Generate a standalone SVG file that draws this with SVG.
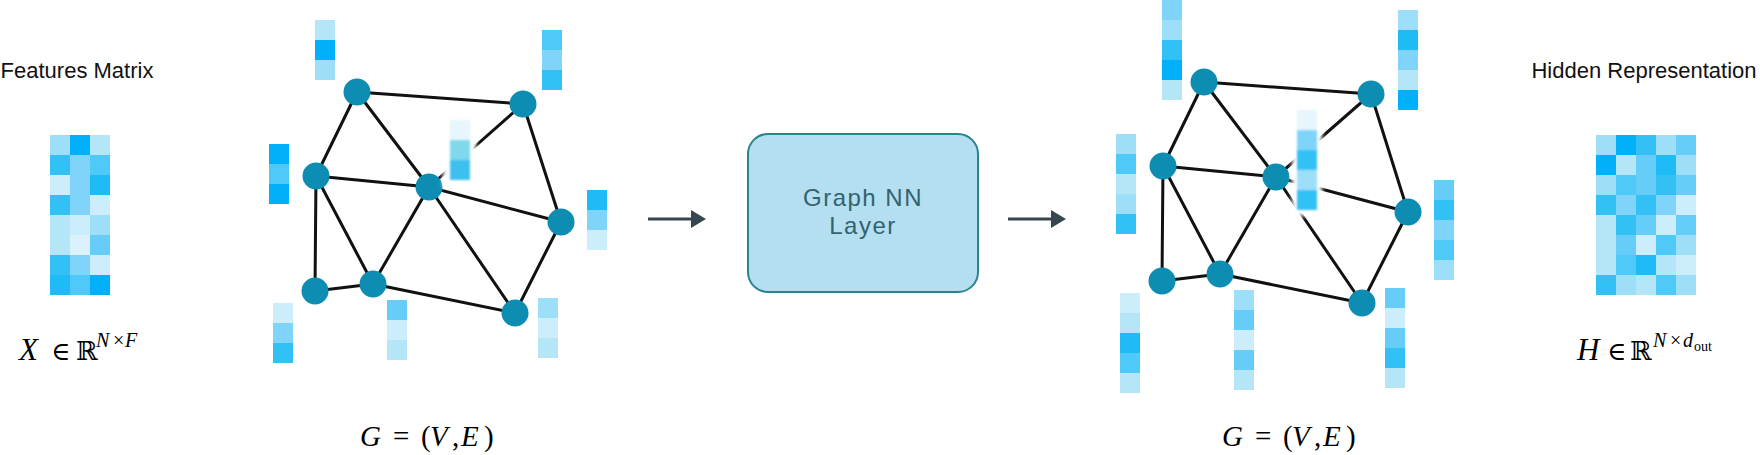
<svg xmlns="http://www.w3.org/2000/svg" width="1760" height="455" viewBox="0 0 1760 455">
<defs>
<style>
.lbl{font-family:"Liberation Sans",Arial,sans-serif;font-size:22px;fill:#111;text-anchor:middle}
.box-t{font-family:"Liberation Sans",Arial,sans-serif;font-size:24px;fill:#33636f;text-anchor:middle;letter-spacing:1.5px}
.math{font-family:"Liberation Serif","Times New Roman",serif;font-size:29px;fill:#000}
.it{font-style:italic}
.big{font-size:31px}
.el{font-family:"DejaVu Serif","DejaVu Sans",serif;font-size:26px}
.bb{font-family:"DejaVu Serif","DejaVu Sans",serif;font-size:26px}
.sup{font-size:20px}
.edge{stroke:#111;stroke-width:3;fill:none;stroke-linecap:round}
.node circle{fill:#0e8db3}
.cells rect{width:20px;height:20px}
.k0{fill:#00b0f8}.k1{fill:#1ebbf7}.k2{fill:#33c1f5}.k3{fill:#4fc9f7}.k4{fill:#66cdf8}
.k5{fill:#80d4f9}.k6{fill:#9ddff9}.k7{fill:#b5e6f8}.k8{fill:#cceefc}.k9{fill:#dbf2fd}
.kf{fill:#e6f6fc}
.arrow{stroke:#37474f;stroke-width:3;fill:none}
</style>
<marker id="ah" markerUnits="userSpaceOnUse" markerWidth="16" markerHeight="20" refX="2" refY="9" orient="auto">
<path d="M0,0 L15,9 L0,18 Z" fill="#37474f"/>
</marker>
<filter id="soft" x="-50%" y="-30%" width="200%" height="160%"><feGaussianBlur stdDeviation="1.2"/></filter>
<filter id="halo" x="-50%" y="-30%" width="200%" height="160%"><feGaussianBlur stdDeviation="2"/></filter>
</defs>
<rect width="1760" height="455" fill="#fff"/>

<!-- Features matrix -->
<g id="features">
<text class="lbl" x="77" y="78">Features Matrix</text>
<g class="cells">
<rect class="k6" x="50" y="135"/><rect class="k0" x="70" y="135"/><rect class="k7" x="90" y="135"/>
<rect class="k2" x="50" y="155"/><rect class="k5" x="70" y="155"/><rect class="k3" x="90" y="155"/>
<rect class="k8" x="50" y="175"/><rect class="k5" x="70" y="175"/><rect class="k1" x="90" y="175"/>
<rect class="k2" x="50" y="195"/><rect class="k5" x="70" y="195"/><rect class="k8" x="90" y="195"/>
<rect class="k7" x="50" y="215"/><rect class="k8" x="70" y="215"/><rect class="k6" x="90" y="215"/>
<rect class="k7" x="50" y="235"/><rect class="k9" x="70" y="235"/><rect class="k4" x="90" y="235"/>
<rect class="k2" x="50" y="255"/><rect class="k5" x="70" y="255"/><rect class="k8" x="90" y="255"/>
<rect class="k1" x="50" y="275"/><rect class="k3" x="70" y="275"/><rect class="k0" x="90" y="275"/>
</g>
<text class="math" y="360"><tspan class="it big" x="19">X</tspan><tspan class="el" x="51">∈</tspan><tspan class="bb" x="76">ℝ</tspan><tspan class="sup it" x="96" y="347">N</tspan><tspan class="sup" x="113" y="347">×</tspan><tspan class="sup it" x="125" y="347">F</tspan></text>
</g>

<!-- Left graph connectors -->
<g id="connectors-left">
<line class="edge" x1="357" y1="92" x2="523" y2="104"/>
<line class="edge" x1="357" y1="92" x2="316" y2="176"/>
<line class="edge" x1="357" y1="92" x2="429" y2="187"/>
<line class="edge" x1="523" y1="104" x2="429" y2="187"/>
<line class="edge" x1="523" y1="104" x2="561" y2="222"/>
<line class="edge" x1="316" y1="176" x2="429" y2="187"/>
<line class="edge" x1="316" y1="176" x2="315" y2="291"/>
<line class="edge" x1="316" y1="176" x2="373" y2="284"/>
<line class="edge" x1="429" y1="187" x2="373" y2="284"/>
<line class="edge" x1="429" y1="187" x2="561" y2="222"/>
<line class="edge" x1="429" y1="187" x2="515" y2="313"/>
<line class="edge" x1="315" y1="291" x2="373" y2="284"/>
<line class="edge" x1="373" y1="284" x2="515" y2="313"/>
<line class="edge" x1="515" y1="313" x2="561" y2="222"/>
</g>
<g id="L-A" class="node"><circle cx="357" cy="92" r="13.5"/></g>
<g id="L-B" class="node"><circle cx="523" cy="104" r="13.5"/></g>
<g id="L-C" class="node"><circle cx="316" cy="176" r="13.5"/></g>
<g id="L-D" class="node"><circle cx="429" cy="187" r="13.5"/></g>
<g id="L-E" class="node"><circle cx="561" cy="222" r="13.5"/></g>
<g id="L-F" class="node"><circle cx="315" cy="291" r="13.5"/></g>
<g id="L-G" class="node"><circle cx="373" cy="284" r="13.5"/></g>
<g id="L-H" class="node"><circle cx="515" cy="313" r="13.5"/></g>

<g id="left-vectors" class="cells">
<rect class="k7" x="315" y="20"/><rect class="k0" x="315" y="40"/><rect class="k6" x="315" y="60"/>
<rect class="k3" x="542" y="30"/><rect class="k5" x="542" y="50"/><rect class="k2" x="542" y="70"/>
<rect class="k0" x="269" y="144"/><rect class="k3" x="269" y="164"/><rect class="k0" x="269" y="184"/>
<rect class="k1" x="587" y="190"/><rect class="k5" x="587" y="210"/><rect class="k8" x="587" y="230"/>
<rect class="k8" x="273" y="303"/><rect class="k5" x="273" y="323"/><rect class="k2" x="273" y="343"/>
<rect class="k4" x="387" y="300"/><rect class="k8" x="387" y="320"/><rect class="k7" x="387" y="340"/>
<rect class="k6" x="538" y="298"/><rect class="k8" x="538" y="318"/><rect class="k7" x="538" y="338"/>
</g>
<g id="left-center-vector">
<rect x="443" y="112" width="33" height="75" fill="#fff" filter="url(#halo)"/>
<g filter="url(#soft)">
<rect x="450" y="120" width="20" height="20" class="kf"/>
<rect x="450" y="140" width="20" height="20" fill="#7fd8ec"/>
<rect x="450" y="160" width="20" height="20" fill="#3cc0f0"/>
</g>
</g>
<text class="math" y="446"><tspan class="it" x="360">G</tspan><tspan x="393">=</tspan><tspan x="421">(</tspan><tspan class="it" x="430">V</tspan><tspan x="452">,</tspan><tspan class="it" x="461">E</tspan><tspan x="484">)</tspan></text>

<!-- Arrows -->
<g id="connectors-arrows">
<line class="arrow" x1="648" y1="219" x2="693" y2="219" marker-end="url(#ah)"/>
<line class="arrow" x1="1008" y1="219" x2="1053" y2="219" marker-end="url(#ah)"/>
</g>

<!-- GNN Layer box -->
<g id="gnn-layer">
<rect x="748" y="134" width="230" height="158" rx="20" fill="#b4dff0" stroke="#2a8391" stroke-width="2"/>
<text class="box-t" x="863" y="206">Graph NN</text>
<text class="box-t" x="863" y="234">Layer</text>
</g>

<!-- Right graph connectors -->
<g id="connectors-right">
<line class="edge" x1="1204" y1="82" x2="1371" y2="94"/>
<line class="edge" x1="1204" y1="82" x2="1163" y2="166"/>
<line class="edge" x1="1204" y1="82" x2="1276" y2="177"/>
<line class="edge" x1="1371" y1="94" x2="1276" y2="177"/>
<line class="edge" x1="1371" y1="94" x2="1408" y2="212"/>
<line class="edge" x1="1163" y1="166" x2="1276" y2="177"/>
<line class="edge" x1="1163" y1="166" x2="1162" y2="281"/>
<line class="edge" x1="1163" y1="166" x2="1220" y2="274"/>
<line class="edge" x1="1276" y1="177" x2="1220" y2="274"/>
<line class="edge" x1="1276" y1="177" x2="1408" y2="212"/>
<line class="edge" x1="1276" y1="177" x2="1362" y2="303"/>
<line class="edge" x1="1162" y1="281" x2="1220" y2="274"/>
<line class="edge" x1="1220" y1="274" x2="1362" y2="303"/>
<line class="edge" x1="1362" y1="303" x2="1408" y2="212"/>
</g>
<g id="R-A" class="node"><circle cx="1204" cy="82" r="13.5"/></g>
<g id="R-B" class="node"><circle cx="1371" cy="94" r="13.5"/></g>
<g id="R-C" class="node"><circle cx="1163" cy="166" r="13.5"/></g>
<g id="R-D" class="node"><circle cx="1276" cy="177" r="13.5"/></g>
<g id="R-E" class="node"><circle cx="1408" cy="212" r="13.5"/></g>
<g id="R-F" class="node"><circle cx="1162" cy="281" r="13.5"/></g>
<g id="R-G" class="node"><circle cx="1220" cy="274" r="13.5"/></g>
<g id="R-H" class="node"><circle cx="1362" cy="303" r="13.5"/></g>

<g id="right-vectors" class="cells">
<rect class="k5" x="1162" y="0"/><rect class="k6" x="1162" y="20"/><rect class="k2" x="1162" y="40"/><rect class="k0" x="1162" y="60"/><rect class="k7" x="1162" y="80"/>
<rect class="k6" x="1398" y="10"/><rect class="k1" x="1398" y="30"/><rect class="k5" x="1398" y="50"/><rect class="k7" x="1398" y="70"/><rect class="k0" x="1398" y="90"/>
<rect class="k6" x="1116" y="134"/><rect class="k3" x="1116" y="154"/><rect class="k7" x="1116" y="174"/><rect class="k6" x="1116" y="194"/><rect class="k2" x="1116" y="214"/>
<rect class="k4" x="1434" y="180"/><rect class="k2" x="1434" y="200"/><rect class="k5" x="1434" y="220"/><rect class="k3" x="1434" y="240"/><rect class="k6" x="1434" y="260"/>
<rect class="k8" x="1120" y="293"/><rect class="k7" x="1120" y="313"/><rect class="k1" x="1120" y="333"/><rect class="k3" x="1120" y="353"/><rect class="k7" x="1120" y="373"/>
<rect class="k6" x="1234" y="290"/><rect class="k4" x="1234" y="310"/><rect class="k8" x="1234" y="330"/><rect class="k4" x="1234" y="350"/><rect class="k7" x="1234" y="370"/>
<rect class="k4" x="1385" y="288"/><rect class="k8" x="1385" y="308"/><rect class="k4" x="1385" y="328"/><rect class="k2" x="1385" y="348"/><rect class="k7" x="1385" y="368"/>
</g>
<g id="right-center-vector">
<rect x="1292" y="104" width="30" height="112" fill="#fff" filter="url(#halo)"/>
<g filter="url(#soft)">
<rect x="1297" y="110" width="20" height="20" class="kf"/>
<rect x="1297" y="130" width="20" height="20" class="k5"/>
<rect x="1297" y="150" width="20" height="20" class="k2"/>
<rect x="1297" y="170" width="20" height="20" class="k6"/>
<rect x="1297" y="190" width="20" height="20" class="k2"/>
</g>
</g>
<text class="math" y="446"><tspan class="it" x="1222">G</tspan><tspan x="1255">=</tspan><tspan x="1283">(</tspan><tspan class="it" x="1292">V</tspan><tspan x="1314">,</tspan><tspan class="it" x="1323">E</tspan><tspan x="1346">)</tspan></text>

<!-- Hidden representation -->
<g id="hidden">
<text class="lbl" x="1644" y="78">Hidden Representation</text>
<g class="cells">
<rect class="k6" x="1596" y="135"/><rect class="k0" x="1616" y="135"/><rect class="k2" x="1636" y="135"/><rect class="k6" x="1656" y="135"/><rect class="k4" x="1676" y="135"/>
<rect class="k0" x="1596" y="155"/><rect class="k7" x="1616" y="155"/><rect class="k4" x="1636" y="155"/><rect class="k1" x="1656" y="155"/><rect class="k6" x="1676" y="155"/>
<rect class="k6" x="1596" y="175"/><rect class="k3" x="1616" y="175"/><rect class="k4" x="1636" y="175"/><rect class="k2" x="1656" y="175"/><rect class="k4" x="1676" y="175"/>
<rect class="k2" x="1596" y="195"/><rect class="k5" x="1616" y="195"/><rect class="k2" x="1636" y="195"/><rect class="k5" x="1656" y="195"/><rect class="k8" x="1676" y="195"/>
<rect class="k7" x="1596" y="215"/><rect class="k2" x="1616" y="215"/><rect class="k4" x="1636" y="215"/><rect class="k8" x="1656" y="215"/><rect class="k4" x="1676" y="215"/>
<rect class="k7" x="1596" y="235"/><rect class="k4" x="1616" y="235"/><rect class="k8" x="1636" y="235"/><rect class="k3" x="1656" y="235"/><rect class="k6" x="1676" y="235"/>
<rect class="k7" x="1596" y="255"/><rect class="k3" x="1616" y="255"/><rect class="k1" x="1636" y="255"/><rect class="k7" x="1656" y="255"/><rect class="k8" x="1676" y="255"/>
<rect class="k2" x="1596" y="275"/><rect class="k6" x="1616" y="275"/><rect class="k7" x="1636" y="275"/><rect class="k3" x="1656" y="275"/><rect class="k6" x="1676" y="275"/>
</g>
<text class="math" y="360"><tspan class="it big" x="1577">H</tspan><tspan class="el" x="1607">∈</tspan><tspan class="bb" x="1630">ℝ</tspan><tspan class="sup it" x="1653" y="347">N</tspan><tspan class="sup" x="1670" y="347">×</tspan><tspan class="sup it" x="1683" y="347">d</tspan><tspan x="1694" y="351" style="font-size:14px">out</tspan></text>
</g>
</svg>
